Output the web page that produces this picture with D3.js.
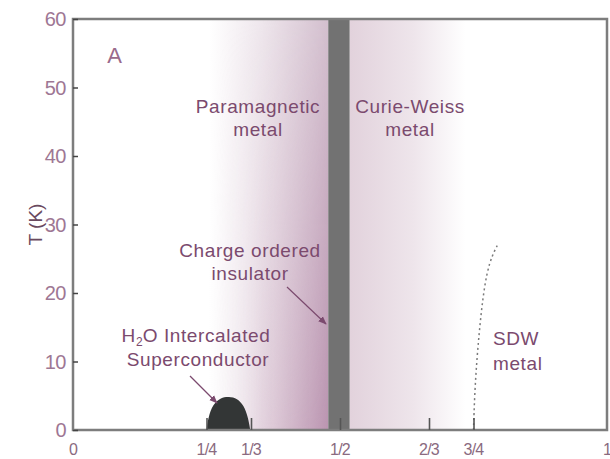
<!DOCTYPE html>
<html>
<head>
<meta charset="utf-8">
<script src="https://cdn.jsdelivr.net/npm/d3@7"></script>
<style>
  body { margin: 0; background: #fff; }
  svg text { font-family: "Liberation Sans", Arial, sans-serif; }
</style>
</head>
<body>
<svg id="chart" width="610" height="459"></svg>
<script>
// hole doping x along the bottom, temperature T (K) up the side
const x_ticks = [0, 1/4, 1/3, 1/2, 2/3, 3/4, 1];
const x_tick_labels = ["0", "1/4", "1/3", "1/2", "2/3", "3/4", "1"];
const y_ticks = [0, 10, 20, 30, 40, 50, 60];

// charge ordered insulator band around x = 1/2
const co_band = [0.478, 0.518];
// metallic shading, [start, end] of the fades on each side of the band
const para_fade = [0.255, 0.478];
const cw_fade = [0.518, 0.735];

// superconducting dome (x, Tc)
const sc_x = [0.250, 0.254, 0.263, 0.277, 0.292, 0.307, 0.319, 0.327, 0.332];
const sc_t = [0.0, 1.8, 3.6, 4.6, 4.8, 4.5, 3.5, 1.9, 0.0];

// SDW boundary (dotted)
const sdw_x = [0.750, 0.752, 0.756, 0.761, 0.767, 0.775, 0.785, 0.795];
const sdw_t = [0.0, 5.0, 10.0, 14.5, 19.0, 23.0, 25.5, 27.0];

const svg = d3.select("#chart");
const M = {left: 73, right: 607, top: 19, bottom: 430};
const TEXT_COLOR = "#7b4a6e";

const x = d3.scaleLinear().domain([0, 1]).range([M.left, M.right]);
const y = d3.scaleLinear().domain([0, 60]).range([M.bottom, M.top]);

const defs = svg.append("defs");
function add_fade(id, stops, vertical=false){
  const g = defs.append("linearGradient").attr("id", id)
    .attr("x1", "0%").attr("x2", vertical ? "0%" : "100%")
    .attr("y1", "0%").attr("y2", vertical ? "100%" : "0%");
  stops.forEach(s => g.append("stop").attr("offset", s[0]).attr("stop-color", s[1])
    .attr("stop-opacity", s[2] === undefined ? 1 : s[2]));
}
add_fade("para", [["0%", "#ffffff"], ["45%", "#eee6ec"], ["100%", "#d4c0cf"]]);
add_fade("para_dark", [["0%", "#ffffff", 0], ["45%", "#d8bfd0", 0.5], ["100%", "#ba94b0"]]);
add_fade("fade_down", [["0%", "#000"], ["100%", "#fff"]], true);
add_fade("cw", [["0%", "#e2d2dc"], ["55%", "#eee5eb"], ["100%", "#ffffff"]]);

defs.append("mask").attr("id", "down_mask")
  .attr("maskContentUnits", "objectBoundingBox")
  .append("rect").attr("width", 1).attr("height", 1).attr("fill", "url(#fade_down)");

function band_rect(x0, x1){
  return svg.append("rect")
    .attr("x", x(x0)).attr("y", y(60))
    .attr("width", x(x1) - x(x0)).attr("height", y(0) - y(60));
}
band_rect(para_fade[0], para_fade[1]).attr("fill", "url(#para)");
band_rect(para_fade[0], para_fade[1]).attr("fill", "url(#para_dark)").attr("mask", "url(#down_mask)");
band_rect(cw_fade[0], cw_fade[1]).attr("fill", "url(#cw)");
band_rect(co_band[0], co_band[1]).attr("fill", "#727272");

// dome
const dome = sc_x.map((v, i) => [v, sc_t[i]]);
svg.append("path")
  .attr("d", d3.area().x(d => x(d[0])).y0(y(0)).y1(d => y(d[1])).curve(d3.curveCatmullRom.alpha(0.5))(dome))
  .attr("fill", "#333636");

// SDW line
const sdw = sdw_x.map((v, i) => [v, sdw_t[i]]);
svg.append("path")
  .attr("d", d3.line().x(d => x(d[0])).y(d => y(d[1])).curve(d3.curveBasis)(sdw))
  .attr("fill", "none").attr("stroke", "#7a7a7a").attr("stroke-width", 1.5)
  .attr("stroke-dasharray", "2,3");

// frame
svg.append("path")
  .attr("d", "M" + x(0) + "," + y(0) + "V" + y(60) + "H" + x(1) + "V" + y(0) + "Z")
  .attr("fill", "none").attr("stroke", "#7d7d7d").attr("stroke-width", 2.5);

// y axis
const y_axis = svg.append("g")
  .attr("transform", "translate(" + x(0) + ",0)")
  .call(d3.axisRight(y).tickValues(y_ticks).tickSize(5).tickFormat(""));
y_axis.select(".domain").remove();
y_axis.selectAll("line").attr("stroke", "#444").attr("stroke-width", 1.5);
svg.append("g").selectAll("text").data(y_ticks).join("text")
  .attr("x", x(0) - 7).attr("y", d => y(d)).attr("dy", "0.36em")
  .attr("text-anchor", "end").attr("font-size", 20).attr("fill", "#9e7794")
  .attr("letter-spacing", "-0.5")
  .text(d => d);

// x axis
const inner = x_ticks.filter(d => d > 0 && d < 1);
const x_axis = svg.append("g")
  .attr("transform", "translate(0," + y(0) + ")")
  .call(d3.axisTop(x).tickValues(inner).tickSize(12).tickFormat(""));
x_axis.select(".domain").remove();
x_axis.selectAll("line").attr("stroke", "#555").attr("stroke-width", 1.6);
svg.append("g").selectAll("text").data(x_ticks).join("text")
  .attr("x", d => x(d)).attr("y", 455)
  .attr("text-anchor", "middle").attr("font-size", 16).attr("fill", "#8a6a80")
  .attr("letter-spacing", "-0.8")
  .text((d, i) => x_tick_labels[i]);

svg.append("text")
  .attr("transform", "translate(42," + y(30) + ") rotate(-90)")
  .attr("text-anchor", "middle").attr("font-size", 19).attr("fill", "#6a4a60")
  .text("T (K)");

// region labels
function label(cx, cy, lines, anchor="middle", gap=23){
  const t = svg.append("text")
    .attr("text-anchor", anchor).attr("font-size", 19).attr("fill", TEXT_COLOR)
    .attr("letter-spacing", "0.6");
  lines.forEach((s, i) => t.append("tspan").attr("x", cx).attr("y", cy + i * gap).text(s));
  return t;
}
label(115, 63, ["A"]).attr("font-size", 22).attr("fill", "#9a6a8c");
label(258, 113, ["Paramagnetic", "metal"]);
label(410, 113, ["Curie-Weiss", "metal"]);
label(250, 257, ["Charge ordered", "insulator"]);
label(493, 345, ["SDW", "metal"], "start", 25);

const h2o = svg.append("text").attr("text-anchor", "middle").attr("font-size", 19)
  .attr("fill", TEXT_COLOR).attr("letter-spacing", "0.6");
h2o.append("tspan").attr("x", 196).attr("y", 342).text("H");
h2o.append("tspan").attr("font-size", 12).attr("dy", 4).attr("letter-spacing", "0").text("2");
h2o.append("tspan").attr("dy", -4).text("O Intercalated");
h2o.append("tspan").attr("x", 198).attr("y", 366).text("Superconductor");

// arrows
defs.append("marker").attr("id", "arrow")
  .attr("viewBox", "0 0 10 10").attr("refX", 9).attr("refY", 5)
  .attr("markerWidth", 7).attr("markerHeight", 7).attr("orient", "auto")
  .append("path").attr("d", "M0,1L10,5L0,9Z").attr("fill", TEXT_COLOR);
function arrow(x1, y1, x2, y2){
  svg.append("line").attr("x1", x1).attr("y1", y1).attr("x2", x2).attr("y2", y2)
    .attr("stroke", TEXT_COLOR).attr("stroke-width", 1.2).attr("marker-end", "url(#arrow)");
}
arrow(287, 287, 326, 324);
arrow(190, 376, 217, 403);
</script>
</body>
</html>
